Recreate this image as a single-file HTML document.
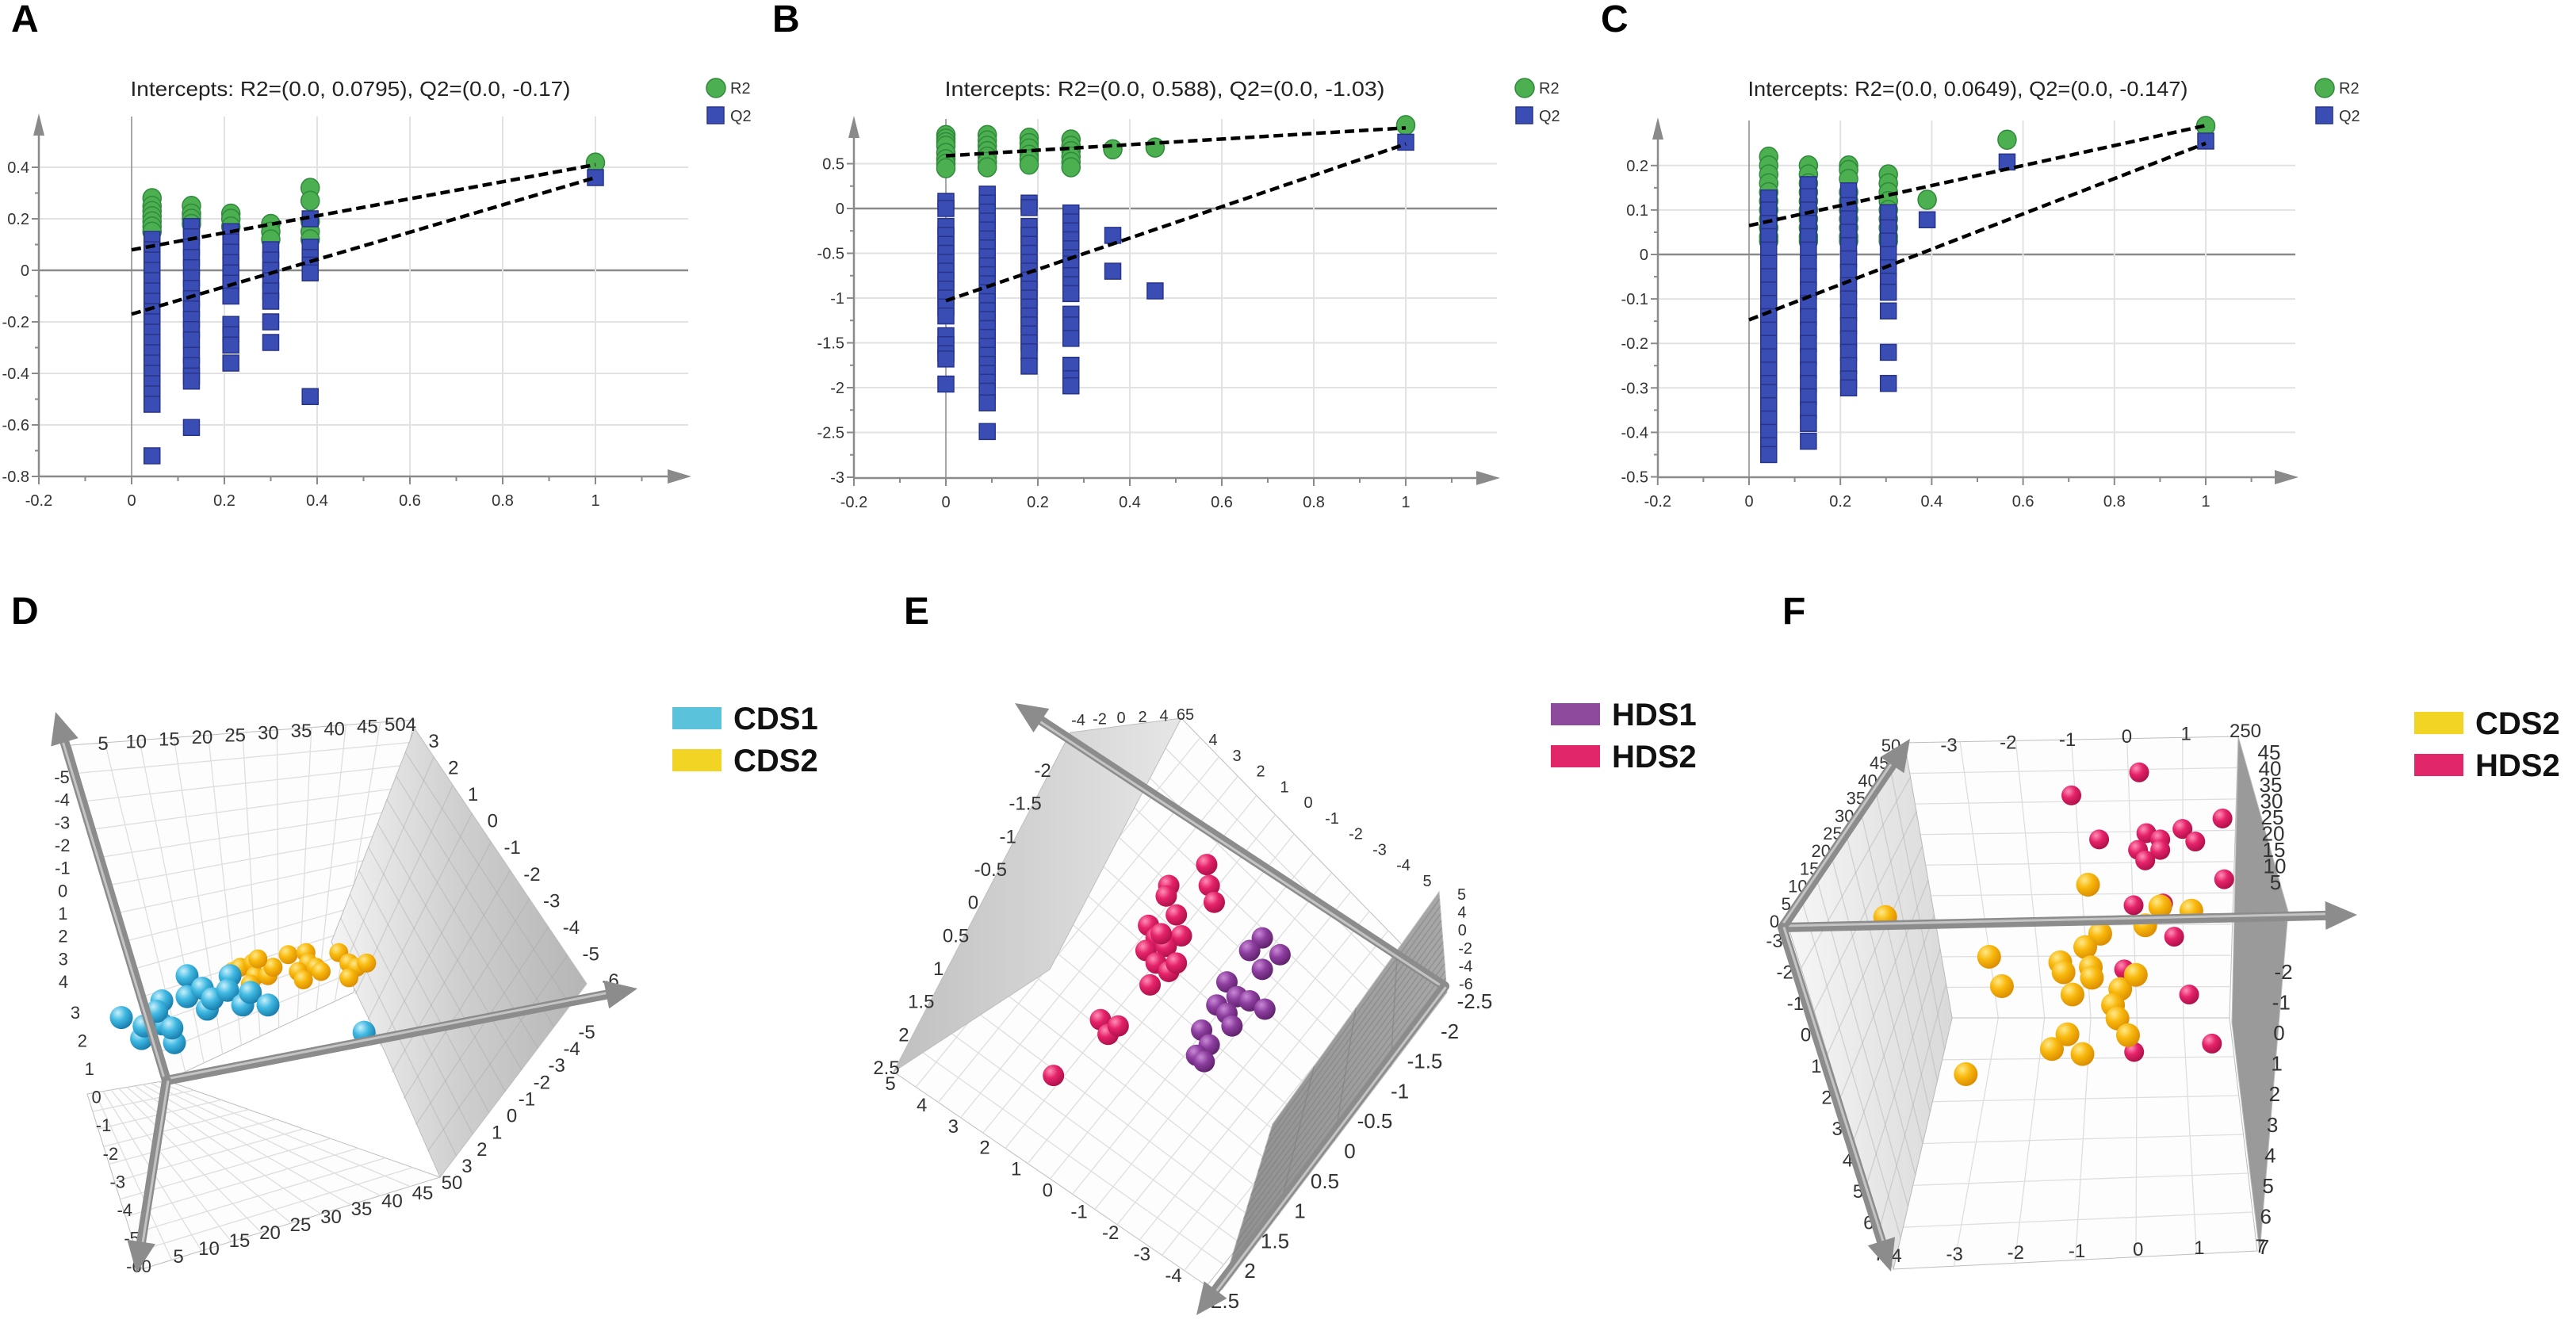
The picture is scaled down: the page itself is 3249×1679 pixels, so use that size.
<!DOCTYPE html>
<html><head><meta charset="utf-8"><style>
html,body{margin:0;padding:0;background:#fff;}
svg{display:block;font-family:"Liberation Sans",sans-serif;}
</style></head><body>
<svg id="fig" width="3249" height="1679" viewBox="0 0 3249 1679" xmlns="http://www.w3.org/2000/svg">
<defs>
<radialGradient id="gCyan" cx="0.35" cy="0.3" r="0.75"><stop offset="0" stop-color="#c8f0fb"/><stop offset="0.45" stop-color="#3fb8e2"/><stop offset="1" stop-color="#1679a8"/></radialGradient>
<radialGradient id="gYel" cx="0.35" cy="0.3" r="0.75"><stop offset="0" stop-color="#ffe98a"/><stop offset="0.45" stop-color="#f8b80c"/><stop offset="1" stop-color="#d98a00"/></radialGradient>
<radialGradient id="gMag" cx="0.35" cy="0.3" r="0.75"><stop offset="0" stop-color="#ff8fb5"/><stop offset="0.45" stop-color="#e5226a"/><stop offset="1" stop-color="#a90f48"/></radialGradient>
<radialGradient id="gPur" cx="0.35" cy="0.3" r="0.75"><stop offset="0" stop-color="#c98ad6"/><stop offset="0.45" stop-color="#8d3e9f"/><stop offset="1" stop-color="#5c2068"/></radialGradient>
<linearGradient id="gPlaneD" x1="0" y1="0" x2="1" y2="0"><stop offset="0" stop-color="#f4f4f4"/><stop offset="0.5" stop-color="#cfcfcf"/><stop offset="1" stop-color="#b5b5b5"/></linearGradient>
<linearGradient id="gPlaneEL" x1="0" y1="0" x2="1" y2="0"><stop offset="0" stop-color="#c0c0c0"/><stop offset="1" stop-color="#e6e6e6"/></linearGradient>
<linearGradient id="gPlaneER" x1="0" y1="0" x2="1" y2="0"><stop offset="0" stop-color="#8f8f8f"/><stop offset="1" stop-color="#a8a8a8"/></linearGradient>
<linearGradient id="gPlaneFL" x1="0" y1="0" x2="1" y2="0"><stop offset="0" stop-color="#f7f7f7"/><stop offset="1" stop-color="#d9d9d9"/></linearGradient>
</defs>
<g id="layer"></g>
</svg>
<script>
// ===== Panel A data =====
const aCols = [0.044, 0.129, 0.214, 0.3, 0.385, 1.0];
const aR2 = [[0.28,0.25,0.23,0.21,0.19,0.17,0.15],[0.25,0.22,0.2,0.18],[0.22,0.2,0.17],[0.18,0.15,0.12],[0.32,0.27,0.19,0.15,0.12],[0.418]];
const aQ2 = [[0.12,0.08,0.04,0.0,-0.04,-0.08,-0.12,-0.16,-0.2,-0.24,-0.28,-0.32,-0.36,-0.4,-0.44,-0.48,-0.52,-0.72],
 [0.17,0.13,0.09,0.05,0.01,-0.03,-0.07,-0.11,-0.15,-0.19,-0.23,-0.27,-0.33,-0.37,-0.41,-0.43,-0.61],
 [0.15,0.11,0.07,0.03,-0.01,-0.05,-0.1,-0.21,-0.25,-0.29,-0.36],
 [0.08,0.04,0.0,-0.04,-0.08,-0.12,-0.2,-0.28],
 [0.2,0.09,0.05,0.02,-0.01,-0.49],[0.36]];
const aIntercepts = [0.0795, -0.17];
const aEnd = [0.41, 0.36];
const aYTicks = [0.4,0.2,0,-0.2,-0.4,-0.6,-0.8];
const aXTicks = [-0.2,0,0.2,0.4,0.6,0.8,1];
// ===== Panel B data =====
const bCols = [0, 0.09, 0.181, 0.272, 0.363, 0.455, 1.0];
const bR2 = [[0.82,0.78,0.74,0.7,0.62,0.55,0.5,0.45],[0.82,0.76,0.7,0.64,0.58,0.52,0.46],[0.79,0.73,0.67,0.6,0.55,0.49],[0.77,0.7,0.64,0.58,0.52,0.46],[0.66],[0.68],[0.93]];
const bQ2 = [[0.08,0.0,-0.2,-0.3,-0.4,-0.5,-0.6,-0.7,-0.8,-0.9,-1.0,-1.1,-1.2,-1.42,-1.52,-1.62,-1.68,-1.96],
 [0.16,0.06,-0.04,-0.14,-0.24,-0.34,-0.44,-0.54,-0.64,-0.74,-0.84,-0.94,-1.04,-1.14,-1.24,-1.34,-1.44,-1.54,-1.64,-1.74,-1.84,-1.94,-2.04,-2.17,-2.49],
 [0.06,0.01,-0.2,-0.3,-0.4,-0.5,-0.6,-0.7,-0.8,-0.9,-1.0,-1.1,-1.2,-1.3,-1.4,-1.5,-1.6,-1.76],
 [-0.05,-0.15,-0.25,-0.35,-0.45,-0.55,-0.62,-0.75,-0.85,-0.95,-1.18,-1.3,-1.45,-1.75,-1.9,-1.98],
 [-0.3,-0.7],[-0.92],[0.74]];
const bIntercepts = [0.588, -1.03];
const bEnd = [0.9, 0.72];
const bYTicks = [0.5,0,-0.5,-1,-1.5,-2,-2.5,-3];
const bXTicks = [-0.2,0,0.2,0.4,0.6,0.8,1];
// ===== Panel C data =====
const cCols = [0.043, 0.13, 0.218, 0.305, 0.39, 0.565, 1.0];
const cR2 = [[0.22,0.2,0.18,0.16,0.14,0.12,0.1,0.08,0.06,0.04,0.03],[0.2,0.18,0.16,0.14,0.12,0.1,0.08,0.06,0.04,0.03],[0.2,0.19,0.17,0.14,0.12,0.1,0.08,0.06,0.04,0.03],[0.18,0.16,0.14,0.12,0.1,0.08,0.06,0.04,0.03],[0.123],[0.258],[0.289]];
const cQ2 = [[0.127,0.1,0.07,0.04,0.01,-0.02,-0.05,-0.08,-0.11,-0.14,-0.17,-0.2,-0.23,-0.26,-0.29,-0.31,-0.34,-0.37,-0.4,-0.43,-0.45],
 [0.157,0.13,0.1,0.07,0.04,0.01,-0.02,-0.05,-0.08,-0.11,-0.14,-0.17,-0.2,-0.23,-0.26,-0.29,-0.32,-0.35,-0.38,-0.42],
 [0.143,0.11,0.08,0.05,0.02,-0.01,-0.04,-0.07,-0.1,-0.13,-0.16,-0.19,-0.22,-0.25,-0.28,-0.3],
 [0.094,0.06,0.03,0.0,-0.03,-0.06,-0.085,-0.127,-0.22,-0.29],
 [0.078],[0.208],[0.255]];
const cIntercepts = [0.0649, -0.147];
const cEnd = [0.29, 0.25];
const cYTicks = [0.2,0.1,0,-0.1,-0.2,-0.3,-0.4,-0.5];
const cXTicks = [-0.2,0,0.2,0.4,0.6,0.8,1];

// ===== 3D score data (projected view units) =====
const dCds1U = [240,280,345,320,320,370,370,400,410,420,455,450,480,495,530,720,285,310,340];
const dCds1V = [820,870,880,835,780,720,770,750,800,775,720,755,790,760,790,855,840,805,845];
const dCds2U = [460,475,500,505,530,540,495,570,605,610,590,625,635,600,670,690,705,725,690,510];
const dCds2V = [710,700,690,720,720,700,740,670,665,690,710,700,710,730,665,690,700,690,725,680];
const eHds2U = [740,745,755,665,660,680,690,625,640,620,660,640,665,680,628,530,545,565,437,650];
const eHds2V = [455,505,545,505,530,575,625,600,630,660,650,690,710,690,742,825,860,840,958,620];
const eHds1U = [850,825,885,850,780,800,825,855,760,780,790,730,745,720,735];
const eHds1V = [630,660,670,705,735,770,780,800,790,810,840,850,885,910,925];
const fHds2U = [782,660,932,710,795,820,860,883,780,820,793,935,772,825,845,755,872,913,773];
const fHds2V = [235,290,345,395,380,395,370,400,420,420,445,490,552,548,627,705,765,882,902];
const fCds2U = [325,690,820,876,793,712,685,512,640,646,695,697,535,662,748,776,735,743,762,653,625,680,470];
const fCds2V = [580,503,555,565,600,620,652,675,688,712,700,725,745,765,752,718,790,822,862,860,895,907,955];

const NS = "http://www.w3.org/2000/svg";
const layer = document.getElementById('layer');
function mk(tag, attrs, parent, text){
  const e = document.createElementNS(NS, tag);
  for (const k in attrs) e.setAttribute(k, attrs[k]);
  if (text !== undefined) e.textContent = text;
  (parent || layer).appendChild(e);
  return e;
}
function fmt(v){ return (Math.round(v*100)/100).toString(); }

function panelLabel(t, x, y){
  const e = mk('text', {x:x, y:y, 'font-size':48, 'font-weight':'bold', fill:'#000'}, layer, t);
  
  
}

function permPlot(id, cfg, cols, r2, q2, ints, ends, yT, xT, title){
  const g = mk('g', {});
  
  
  const X = v => cfg.x0 + v*cfg.xs;
  const Y = v => cfg.y0 - v*cfg.ys;
  // grid
  yT.forEach(t => {
    if (t === yT[yT.length-1]) return;
    const gl = mk('line', {x1:cfg.axisX, x2:cfg.right, y1:Y(t), y2:Y(t), stroke: t===0 ? '#8a8a8a' : '#e2e2e2', 'stroke-width': t===0 ? 2.5 : 2}, g);
    
    
  });
  xT.forEach(t => {
    if (t === xT[0]) return;
    const gl = mk('line', {x1:X(t), x2:X(t), y1:cfg.top, y2:cfg.axisY, stroke: t===0 ? '#8a8a8a' : '#e2e2e2', 'stroke-width': t===0 ? 1.5 : 2}, g);
    
    
  });
  // axes
  const ya = mk('line', {x1:cfg.axisX, x2:cfg.axisX, y1:cfg.axisY, y2:cfg.top+18, stroke:'#8a8a8a', 'stroke-width':2.5}, g);
   
  const yh = mk('polygon', {points:`${cfg.axisX-7},${cfg.top+24} ${cfg.axisX+7},${cfg.top+24} ${cfg.axisX},${cfg.top-4}`, fill:'#8a8a8a'}, g);
   
  const xa = mk('line', {x1:cfg.axisX, x2:cfg.right-10, y1:cfg.axisY, y2:cfg.axisY, stroke:'#8a8a8a', 'stroke-width':2.5}, g);
   
  const xh = mk('polygon', {points:`${cfg.right-26},${cfg.axisY-9} ${cfg.right-26},${cfg.axisY+9} ${cfg.right+4},${cfg.axisY}`, fill:'#8a8a8a'}, g);
   
  // ticks + labels
  for (let i=0;i<yT.length;i++){
    const t = yT[i];
    mk('line', {x1:cfg.axisX-9, x2:cfg.axisX, y1:Y(t), y2:Y(t), stroke:'#8a8a8a', 'stroke-width':2}, g);
    if (i < yT.length-1){ const mid=(yT[i]+yT[i+1])/2; mk('line', {x1:cfg.axisX-5, x2:cfg.axisX, y1:Y(mid), y2:Y(mid), stroke:'#8a8a8a', 'stroke-width':2}, g); }
    const tl = mk('text', {x:cfg.axisX-12, y:Y(t)+7, 'font-size':20, 'text-anchor':'end', fill:'#333'}, g, fmt(t));
     
  }
  for (let i=0;i<xT.length;i++){
    const t = xT[i];
    mk('line', {x1:X(t), x2:X(t), y1:cfg.axisY, y2:cfg.axisY+10, stroke:'#8a8a8a', 'stroke-width':2}, g);
    const mid = t + (xT[1]-xT[0])/2;
    mk('line', {x1:X(mid), x2:X(mid), y1:cfg.axisY, y2:cfg.axisY+6, stroke:'#8a8a8a', 'stroke-width':2}, g);
    const tl = mk('text', {x:X(t), y:cfg.axisY+37, 'font-size':20, 'text-anchor':'middle', fill:'#333'}, g, fmt(t));
     
  }
  // R2 circles
  cols.forEach((c, i) => {
    r2[i].forEach(v => {
      const e = mk('ellipse', {cx:X(c), cy:Y(v), rx:11.5, ry:12, fill:'#4caf50', stroke:'#2f8a3b', 'stroke-width':1.5}, g);
       
    });
  });
  // Q2 squares
  cols.forEach((c, i) => {
    q2[i].forEach(v => {
      const e = mk('rect', {x:X(c)-10, y:Y(v)-10, width:20, height:20, fill:'#3a4db5', stroke:'#27348a', 'stroke-width':1.5}, g);
       
    });
  });
  // regression lines
  ['r2','q2'].forEach((n, k) => {
    const e = mk('line', {x1:X(0), y1:Y(ints[k]), x2:X(1), y2:Y(ends[k]), stroke:'#000', 'stroke-width':4.5, 'stroke-dasharray':'12,6'}, g);
     
  });
  // title
  const tt = mk('text', {x:cfg.x0+276, y:121, 'font-size':26, 'text-anchor':'middle', fill:'#222', textLength:555, lengthAdjust:'spacingAndGlyphs'}, g, title);
   
  // legend
  const lc = mk('ellipse', {cx:cfg.legX, cy:111, rx:12, ry:12, fill:'#4caf50', stroke:'#2f8a3b', 'stroke-width':1.5}, g);
   
  const lt1 = mk('text', {x:cfg.legX+18, y:118, 'font-size':20, fill:'#333'}, g, 'R2');
   
  const ls = mk('rect', {x:cfg.legX-11, y:135, width:21, height:21, fill:'#3a4db5', stroke:'#27348a', 'stroke-width':1.5}, g);
   
  const lt2 = mk('text', {x:cfg.legX+18, y:153, 'font-size':20, fill:'#333'}, g, 'Q2');
   
}

panelLabel('A', 14, 40); panelLabel('B', 974, 40); panelLabel('C', 2019, 40);
permPlot('a', {x0:166, xs:585, y0:341, ys:325, axisX:49, axisY:601, top:147, right:868, legX:903}, aCols, aR2, aQ2, aIntercepts, aEnd, aYTicks, aXTicks, 'Intercepts: R2=(0.0, 0.0795), Q2=(0.0, -0.17)');
permPlot('b', {x0:1193, xs:580, y0:263, ys:113, axisX:1077, axisY:603, top:150, right:1888, legX:1923}, bCols, bR2, bQ2, bIntercepts, bEnd, bYTicks, bXTicks, 'Intercepts: R2=(0.0, 0.588), Q2=(0.0, -1.03)');
permPlot('c', {x0:2206, xs:576, y0:321, ys:561, axisX:2091, axisY:602, top:152, right:2895, legX:2932}, cCols, cR2, cQ2, cIntercepts, cEnd, cYTicks, cXTicks, 'Intercepts: R2=(0.0, 0.0649), Q2=(0.0, -0.147)');

// ===== 3D helpers =====
function lerp(a,b,t){ return [a[0]+(b[0]-a[0])*t, a[1]+(b[1]-a[1])*t]; }
function poly(pts, fill, name, parent){
  const e = mk('polygon', {points: pts.map(p=>p.join(',')).join(' '), fill:fill, stroke:'#bdbdbd', 'stroke-width':1}, parent);
   
  return e;
}
function grid(q, n1, n2, col, parent){
  for (let i=1;i<n1;i++){ const t=i/n1; const a=lerp(q[0],q[1],t), b=lerp(q[3],q[2],t);
    mk('line',{x1:a[0],y1:a[1],x2:b[0],y2:b[1],stroke:col,'stroke-width':1.3},parent); }
  for (let i=1;i<n2;i++){ const t=i/n2; const a=lerp(q[0],q[3],t), b=lerp(q[1],q[2],t);
    mk('line',{x1:a[0],y1:a[1],x2:b[0],y2:b[1],stroke:col,'stroke-width':1.3},parent); }
}
function labels(list, p1, p2, size, parent, anchor){
  list.forEach((s,i) => {
    const t = list.length>1 ? i/(list.length-1) : 0; const p = lerp(p1,p2,t);
    const e = mk('text', {x:p[0], y:p[1], 'font-size':size, fill:'#333', 'text-anchor':anchor||'middle'}, parent, s);
     
  });
}
function arrow(p1, p2, name, parent){
  const dx=p2[0]-p1[0], dy=p2[1]-p1[1], L=Math.hypot(dx,dy), ux=dx/L, uy=dy/L, nx=-uy, ny=ux;
  const base=[p2[0]-ux*40, p2[1]-uy*40];
  const g = mk('g', {}, parent);
   
  mk('line', {x1:p1[0],y1:p1[1],x2:base[0],y2:base[1],stroke:'#8c8c8c','stroke-width':12,'stroke-linecap':'round'}, g);
  mk('line', {x1:p1[0]+nx*-2,y1:p1[1]+ny*-2,x2:base[0]+nx*-2,y2:base[1]+ny*-2,stroke:'#c4c4c4','stroke-width':3}, g);
  mk('polygon', {points:`${base[0]+nx*18},${base[1]+ny*18} ${base[0]-nx*18},${base[1]-ny*18} ${p2[0]},${p2[1]}`, fill:'#8c8c8c'}, g);
}
function balls(U, V, tf, r, fill, name, parent){
  U.forEach((u,i) => {
    const e = mk('circle', {cx:tf.x(u), cy:tf.y(V[i]), r:r, fill:fill}, parent);
     
  });
}
function legend(items, x, y, parent){
  items.forEach((it, i) => {
    const r = mk('rect', {x:x, y:y+i*53, width:62, height:28, fill:it[1]}, parent);
     
    const t = mk('text', {x:x+77, y:y+i*53+28, 'font-size':40, 'font-weight':'bold', fill:'#111'}, parent, it[0]);
     
  });
}

// ===== Panel D =====
panelLabel('D', 14, 787);
(function(){
  const g = mk('g', {});  
  const tf = {x: u => u/1.568, y: v => 850 + v/1.891};
  const wall = [[89,940],[523,908],[446,1252],[210,1363]];
  poly(wall, '#fdfdfd', 'back-wall', g); grid(wall, 10, 12, '#dedede', g);
  const floor = [[110,1380],[210,1363],[555,1485],[179,1601]];
  poly(floor, '#fdfdfd', 'floor', g); grid(floor, 10, 10, '#dedede', g);
  poly([[523,919],[740,1241],[555,1485],[485,1326],[418,1188]], 'url(#gPlaneD)', 'side-plane', g);
  grid([[523,919],[740,1241],[555,1485],[418,1188]], 9, 9, 'rgba(160,160,160,0.35)', g);
  labels(['5','10','15','20','25','30','35','40','45','504'], [130,946],[505,922], 24, g);
  labels(['-5','-4','-3','-2','-1','0','1','2','3','4'], [78,988],[80,1246], 22, g);
  labels(['3','2','1','0','-1','-2','-3','-4','-5','-6'], [547,943],[770,1245], 24, g);
  labels(['-5','-4','-3','-2','-1','0','1','2','3','50'], [740,1310],[570,1500], 24, g);
  labels(['5','10','15','20','25','30','35','40','45'], [225,1593],[533,1513], 24, g);
  labels(['3','2','1','0','-1','-2','-3','-4','-5','-60'], [95,1285],[175,1605], 22, g);
  balls(dCds2U, dCds2V, tf, 12, 'url(#gYel)', 'cds2-point', g);
  balls(dCds1U, dCds1V, tf, 14.5, 'url(#gCyan)', 'cds1-point', g);
  arrow([210,1363],[70,898], 'axis-arrow-t2', g);
  arrow([210,1363],[804,1247], 'axis-arrow-t1', g);
  arrow([210,1363],[172,1606], 'axis-arrow-t3', g);
  legend([['CDS1','#5bc2dc'],['CDS2','#f2d424']], 848, 892, g);
})();

// ===== Panel E =====
panelLabel('E', 1140, 787);
(function(){
  const g = mk('g', {});  
  const tf = {x: u => 1050 + u/1.568, y: v => 850 + v/1.891};
  const floor = [[1127,1352],[1490,906],[1822,1247],[1522,1622]];
  poly(floor, '#fdfdfd', 'floor', g); grid(floor, 14, 14, '#dedede', g);
  poly([[1127,1352],[1350,924],[1490,906],[1324,1223]], 'url(#gPlaneEL)', 'left-plane', g);
  poly([[1815,1125],[1825,1252],[1541,1627],[1605,1418]], 'url(#gPlaneER)', 'right-plane', g);
  grid([[1815,1125],[1825,1252],[1541,1627],[1605,1418]], 14, 4, 'rgba(120,120,120,0.5)', g);
  labels(['-4','-2','0','2','4','65'], [1360,915],[1495,908], 20, g);
  labels(['-2','-1.5','-1','-0.5','0','0.5','1','1.5','2','2.5'], [1315,980],[1118,1355], 24, g);
  labels(['4','3','2','1','0','-1','-2','-3','-4','5'], [1530,940],[1800,1118], 20, g);
  labels(['5','4','3','2','1','0','-1','-2','-3','-4'], [1123,1375],[1480,1617], 24, g);
  labels(['-2.5','-2','-1.5','-1','-0.5','0','0.5','1','1.5','2','2.5'], [1860,1272],[1545,1650], 26, g);
  labels(['5','4','0','-2','-4','-6'], [1838,1135],[1840,1248], 20, g, 'start');
  balls(eHds1U, eHds1V, tf, 13.5, 'url(#gPur)', 'hds1-point', g);
  balls(eHds2U, eHds2V, tf, 13.5, 'url(#gMag)', 'hds2-point', g);
  arrow([1822,1244],[1280,887], 'axis-arrow-t1', g);
  arrow([1822,1244],[1509,1659], 'axis-arrow-t2', g);
  legend([['HDS1','#8e4a9c'],['HDS2','#e2266a']], 1956, 887, g);
})();

// ===== Panel F =====
panelLabel('F', 2248, 787);
(function(){
  const g = mk('g', {});  
  const tf = {x: u => 2150 + u/1.427, y: v => 850 + v/1.891};
  const back = [[2402,937],[2823,929],[2812,1284],[2462,1284]];
  poly(back, '#fdfdfd', 'back-wall', g); grid(back, 6, 9, '#dedede', g);
  const floor = [[2462,1284],[2812,1284],[2847,1578],[2388,1601]];
  poly(floor, '#fdfdfd', 'floor', g); grid(floor, 6, 6, '#dedede', g);
  poly([[2255,1167],[2402,937],[2462,1284],[2388,1601]], 'url(#gPlaneFL)', 'left-plane', g);
  grid([[2255,1167],[2402,937],[2462,1284],[2388,1601]], 8, 8, 'rgba(180,180,180,0.5)', g);
  poly([[2823,929],[2886,1150],[2850,1580],[2815,1290]], '#9a9a9a', 'right-plane', g);
  labels(['-3','-2','-1','0','1','250'], [2458,948],[2832,930], 24, g);
  labels(['-4','-3','-2','-1','0','1','7'], [2388,1592],[2851,1580], 24, g);
  labels(['45','40','35','30','25','20','15','10','5'], [2862,958],[2870,1122], 26, g);
  labels(['-2','-1','0','1','2','3','4','5','6','7'], [2880,1235],[2855,1582], 26, g);
  labels(['50','45','40','35','30','25','20','15','10','5','0'], [2385,948],[2238,1170], 22, g);
  labels(['-3','-2','-1','0','1','2','3','4','5','6','7'], [2238,1195],[2370,1590], 24, g);
  balls(fHds2U, fHds2V, tf, 12.5, 'url(#gMag)', 'hds2-point', g);
  balls(fCds2U, fCds2V, tf, 15, 'url(#gYel)', 'cds2-point', g);
  arrow([2248,1170],[2973,1154], 'axis-arrow-t1', g);
  arrow([2248,1170],[2409,932], 'axis-arrow-t2', g);
  arrow([2248,1170],[2385,1604], 'axis-arrow-t3', g);
  legend([['CDS2','#f2d424'],['HDS2','#e2266a']], 3045, 898, g);
})();
</script>
</body></html>
